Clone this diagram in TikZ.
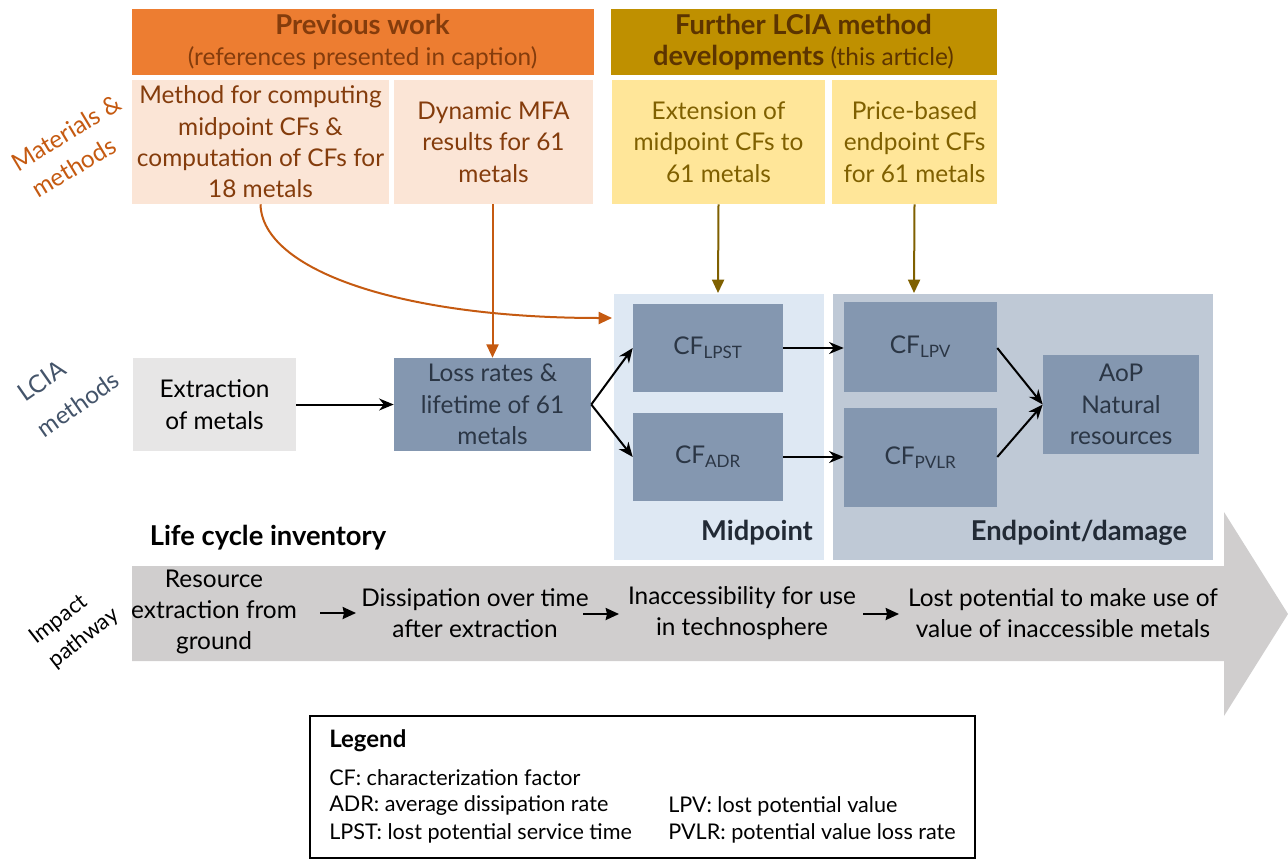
\documentclass[tikz,border=0pt]{standalone}
\usepackage{fontspec}
\setmainfont{Lato}
\usetikzlibrary{arrows.meta}
\definecolor{orhead}{HTML}{ED7D31}
\definecolor{peach}{HTML}{FBE5D6}
\definecolor{goldhead}{HTML}{BF9000}
\definecolor{yel}{HTML}{FFE699}
\definecolor{brn}{HTML}{843C0C}
\definecolor{goldtxt}{HTML}{7F6000}
\definecolor{goldhtxt}{HTML}{5C3400}
\definecolor{orarrow}{HTML}{C55A11}
\definecolor{nodeblue}{HTML}{8497B0}
\definecolor{nodetxt}{HTML}{2B3645}
\definecolor{midbg}{HTML}{DEE8F3}
\definecolor{endbg}{HTML}{BFC9D6}
\definecolor{lightgray}{HTML}{E7E6E6}
\definecolor{pathgray}{HTML}{D0CECE}
\definecolor{slate}{HTML}{44546A}
\definecolor{darklab}{HTML}{222A35}
\def\px{0.75pt}
\newcommand\hb{\fontsize{20.5}{23.5}\selectfont\bfseries}
\tikzset{
  main/.style={font=\fontsize{18.3}{23.5}\selectfont},
  blk/.style={align=center, inner sep=0pt, main},
  hdr/.style={blk, fill=orhead, text=brn},
  peachbox/.style={blk, fill=peach, text=brn},
  goldbox/.style={blk, fill=goldhead, text=goldhtxt},
  yelbox/.style={blk, fill=yel, text=goldtxt},
  cfbox/.style={blk, fill=nodeblue, text=nodetxt},
  bgbox/.style={draw=white, line width=2pt},
  blk-arrow/.style={-{Stealth[length=11pt,width=9pt]}, line width=1.5pt, black},
  path-arrow/.style={-{Stealth[length=10pt,width=9pt,inset=1pt]}, line width=1.6pt, black},
  or-arrow/.style={-{Triangle[length=10pt,width=9pt]}, line width=1.5pt, orarrow},
  gd-arrow/.style={-{Triangle[length=10pt,width=9pt]}, line width=1.5pt, goldtxt},
  sidelab/.style={inner sep=0pt, font=\fontsize{18.3}{20}\selectfont},
  legtxt/.style={anchor=west, inner sep=0pt, font=\fontsize{16.2}{18}\selectfont},
  pathtxt/.style={align=center, inner sep=0pt, main},
  boldlab/.style={inner sep=0pt, font=\hb}
}
\begin{document}
\begin{tikzpicture}[x=0.75pt,y=-0.75pt]
\useasboundingbox (0,0) rectangle (1288,860);

% big impact pathway arrow
\fill[pathgray] (132,566) -- (1224,566) -- (1224,512) -- (1288,614) -- (1224,716) -- (1224,661) -- (132,661) -- cycle;

% background panels
\path[bgbox, fill=midbg] (613,293) rectangle (825,561);
\path[bgbox, fill=endbg] (832,293) rectangle (1214,561);

% headers
\node[hdr, minimum width=462*\px, minimum height=66*\px] (prev) at (362.5,42)
  {{\hb Previous work}\\(references presented in caption)};
\node[goldbox, minimum width=386*\px, minimum height=66*\px] (further) at (803.5,42)
  {{\hb Further LCIA method}\\{\hb developments} (this article)};

% input boxes
\node[peachbox, minimum width=257*\px, minimum height=124*\px] (meth) at (260.5,142)
  {Method for computing\\midpoint CFs \&\\computation of CFs for\\18 metals};
\node[peachbox, minimum width=199*\px, minimum height=124*\px] (mfa) at (493.5,142)
  {Dynamic MFA\\results for 61\\metals};
\node[yelbox, minimum width=213*\px, minimum height=124*\px] (ext) at (718.5,142)
  {Extension of\\midpoint CFs to\\61 metals};
\node[yelbox, minimum width=165*\px, minimum height=124*\px] (price) at (914.5,142)
  {Price-based\\endpoint CFs\\for 61 metals};

% LCIA nodes
\node[blk, fill=lightgray, text=black, minimum width=163*\px, minimum height=93*\px] (extr) at (214.5,404.5)
  {Extraction\\of metals};
\node[cfbox, minimum width=197*\px, minimum height=93*\px] (loss) at (492.5,404.5)
  {Loss rates \&\\lifetime of 61\\metals};
\node[cfbox, minimum width=150*\px, minimum height=88*\px] (lpst) at (708,348)
  {CF\textsubscript{LPST}};
\node[cfbox, minimum width=150*\px, minimum height=88*\px] (adr) at (708,457)
  {CF\textsubscript{ADR}};
\node[cfbox, minimum width=153*\px, minimum height=90*\px] (lpv) at (920.5,347)
  {CF\textsubscript{LPV}};
\node[cfbox, minimum width=153*\px, minimum height=99*\px] (pvlr) at (920.5,457.5)
  {CF\textsubscript{PVLR}};
\node[cfbox, minimum width=156*\px, minimum height=99*\px] (aop) at (1121,404.5)
  {AoP\\Natural\\resources};

% panel labels
\node[boldlab, text=darklab] (midlab) at (757,533) {Midpoint};
\node[boldlab, text=darklab] (endlab) at (1079,533) {Endpoint/damage};
\node[boldlab, text=black] (lci) at (268,538) {Life cycle inventory};

% side labels
\node[sidelab, rotate=31, text=orarrow] (mm1) at (66,133) {Materials \&};
\node[sidelab, rotate=31, text=orarrow] (mm2) at (74,167) {methods};
\node[sidelab, rotate=35, text=slate] (lc1) at (42,381) {LCIA};
\node[sidelab, rotate=35, text=slate] (lc2) at (78,404) {methods};
\node[sidelab, rotate=38, text=black, font=\fontsize{16.5}{18}\selectfont] (ip1) at (59,620) {Impact};
\node[sidelab, rotate=38, text=black, font=\fontsize{16.5}{18}\selectfont] (ip2) at (84,638) {pathway};

% impact pathway texts
\node[pathtxt] (p1) at (214,612) {Resource\\extraction from\\ground};
\node[pathtxt] (p2) at (475,613) {Dissipation over time\\after extraction};
\node[pathtxt] (p3) at (742,613) {Inaccessibility for use\\in technosphere};
\node[pathtxt] (p4) at (1063,613) {Lost potential to make use of\\value of inaccessible metals};
\coordinate (a1s) at (320,613); \coordinate (a1e) at (356,613);
\coordinate (a2s) at (583,614); \coordinate (a2e) at (619,614);
\coordinate (a3s) at (863,614); \coordinate (a3e) at (899,614);
\draw[path-arrow] (a1s) -- (a1e);
\draw[path-arrow] (a2s) -- (a2e);
\draw[path-arrow] (a3s) -- (a3e);

% connectors
\coordinate (orend) at (612,318);
\draw[or-arrow] (meth.south) .. controls (262,270) and (400,318) .. (orend);
\draw[or-arrow] (mfa.south -| loss.north) -- (loss.north);
\coordinate (g1) at (718,293);
\coordinate (g2) at (914,293);
\draw[gd-arrow] (ext.south) -- (g1);
\draw[gd-arrow] (price.south) -- (g2);
\draw[blk-arrow] (extr.east) -- (loss.west);
\draw[blk-arrow] (loss.east) -- (lpst.west);
\draw[blk-arrow] (loss.east) -- (adr.west);
\draw[blk-arrow] (lpst.east) -- (lpv.west |- lpst.east);
\draw[blk-arrow] (adr.east) -- (pvlr.west |- adr.east);
\draw[blk-arrow] (lpv.east |- lpst.east) -- (aop.west);
\draw[blk-arrow] (pvlr.east |- adr.east) -- (aop.west);

% legend
\node[draw=black, line width=0.8pt, minimum width=665*\px, minimum height=142*\px, inner sep=0pt] (leg) at (642.5,787) {};
\node[legtxt, font=\fontsize{18}{20}\selectfont\bfseries] (lg0) at (329,741) {Legend};
\node[legtxt] (lg1) at (329,778) {CF: characterization factor};
\node[legtxt] (lg2) at (329,806) {ADR: average dissipation rate};
\node[legtxt] (lg3) at (329,833) {LPST: lost potential service time};
\node[legtxt] (lg4) at (668,806) {LPV: lost potential value};
\node[legtxt] (lg5) at (668,833) {PVLR: potential value loss rate};
\end{tikzpicture}
\end{document}
